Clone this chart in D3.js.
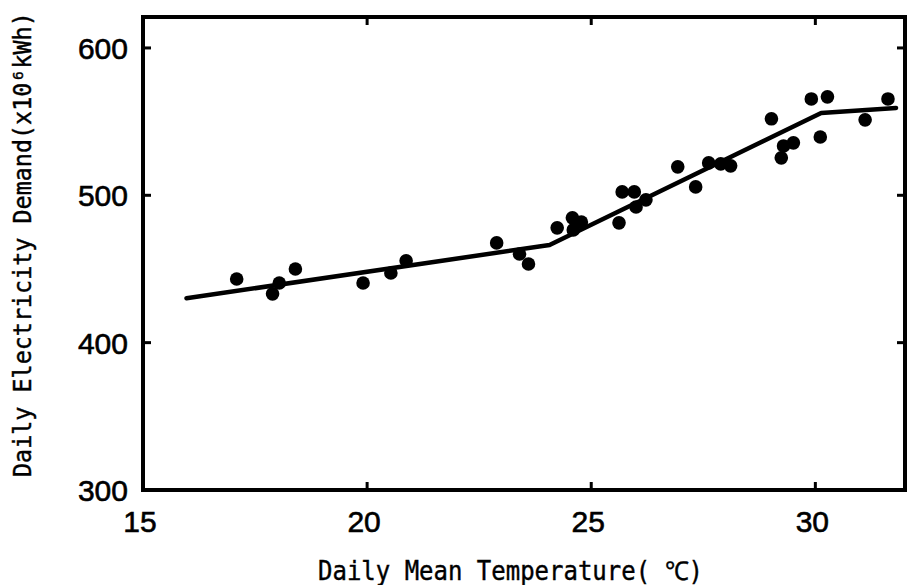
<!DOCTYPE html>
<html><head><meta charset="utf-8">
<script src="https://cdn.jsdelivr.net/npm/d3@7"></script>
<style>body{margin:0;background:#fff}svg{display:block}</style>
</head><body>
<script>
// Observed temperature (°C)
const temps = [17.09,17.89,18.04,18.40,19.91,20.53,20.87,22.89,23.40,23.60,24.24,24.58,24.78,24.60,25.62,25.69,25.96,26.00,26.22,26.93,27.33,27.62,27.89,28.11,29.02,29.24,29.29,29.51,29.91,30.11,30.27,31.11,31.62];
// Observed demand (x10^6 kWh)
const demand = [443.2,433.1,440.5,450.0,440.5,447.3,455.5,467.7,460.2,453.4,477.9,484.7,481.9,476.5,481.3,502.3,502.3,492.1,496.9,519.3,505.7,522.0,521.3,520.0,551.9,525.4,533.5,535.6,565.4,539.6,566.8,551.2,565.4];
// Fitted piecewise line
const fitTemps = [15.97,24.07,30.13,31.80];
const fitDemand = [430.1,466.3,555.9,559.3];
const xTicks = [15,20,25,30];
const yTicks = [300,400,500,600];

const W=912,H=585;
const m={l:143,r:7,t:17,b:95};
const svg=d3.select("body").append("svg").attr("width",W).attr("height",H);
const x=d3.scaleLinear().domain([15,32]).range([m.l,W-m.r]);
const y=d3.scaleLinear().domain([300,621]).range([H-m.b,m.t]);

// ticks (inward on all sides)
const tl=8;
const g=svg.append("g").attr("stroke","#000").attr("stroke-width",3);
xTicks.filter(d=>d>15).forEach(d=>{
  g.append("line").attr("x1",x(d)).attr("x2",x(d)).attr("y1",y(300)).attr("y2",y(300)-tl);
  g.append("line").attr("x1",x(d)).attr("x2",x(d)).attr("y1",y(621)).attr("y2",y(621)+tl);
});
yTicks.filter(d=>d>300).forEach(d=>{
  g.append("line").attr("x1",x(15)).attr("x2",x(15)+tl).attr("y1",y(d)).attr("y2",y(d));
  g.append("line").attr("x1",x(32)).attr("x2",x(32)-tl).attr("y1",y(d)).attr("y2",y(d));
});
// frame
svg.append("rect").attr("x",x(15)).attr("y",y(621)).attr("width",x(32)-x(15)).attr("height",y(300)-y(621))
  .attr("fill","none").attr("stroke","#000").attr("stroke-width",4);

// tick labels
const lf="'Liberation Sans', Arial, sans-serif";
svg.selectAll(".xt").data(xTicks).join("text").attr("x",d=>x(d)-3).attr("y",532)
  .attr("text-anchor","middle").attr("font-family",lf).attr("font-size",30)
  .attr("stroke","#000").attr("stroke-width",0.6).text(d=>d);
svg.selectAll(".yt").data(yTicks).join("text").attr("x",128).attr("y",d=>y(d)+11)
  .attr("text-anchor","end").attr("font-family",lf).attr("font-size",30)
  .attr("stroke","#000").attr("stroke-width",0.6).text(d=>d);

// axis titles
const mf="'DejaVu Sans Mono', monospace";
svg.append("text").attr("x",318).attr("y",580).attr("font-family",mf).attr("font-size",26)
  .attr("stroke","#000").attr("stroke-width",0.4)
  .attr("textLength",385).attr("lengthAdjust","spacingAndGlyphs").text("Daily Mean Temperature( ℃)");
svg.append("text").attr("transform","translate(31,477) rotate(-90) scale(1,1.08)").attr("font-family",mf).attr("font-size",23.4)
  .attr("stroke","#000").attr("stroke-width",0.4).text("Daily Electricity Demand(x10⁶kWh)");

// fitted line
const line=d3.line().x(d=>x(d[0])).y(d=>y(d[1]));
svg.append("path").datum(d3.zip(fitTemps,fitDemand)).attr("d",line)
  .attr("fill","none").attr("stroke","#000").attr("stroke-width",4.5).attr("stroke-linejoin","round").attr("stroke-linecap","round");

// points
svg.selectAll(".pt").data(d3.zip(temps,demand)).join("circle")
  .attr("cx",d=>x(d[0])).attr("cy",d=>y(d[1])).attr("r",6.8).attr("fill","#000");
</script>
</body></html>
